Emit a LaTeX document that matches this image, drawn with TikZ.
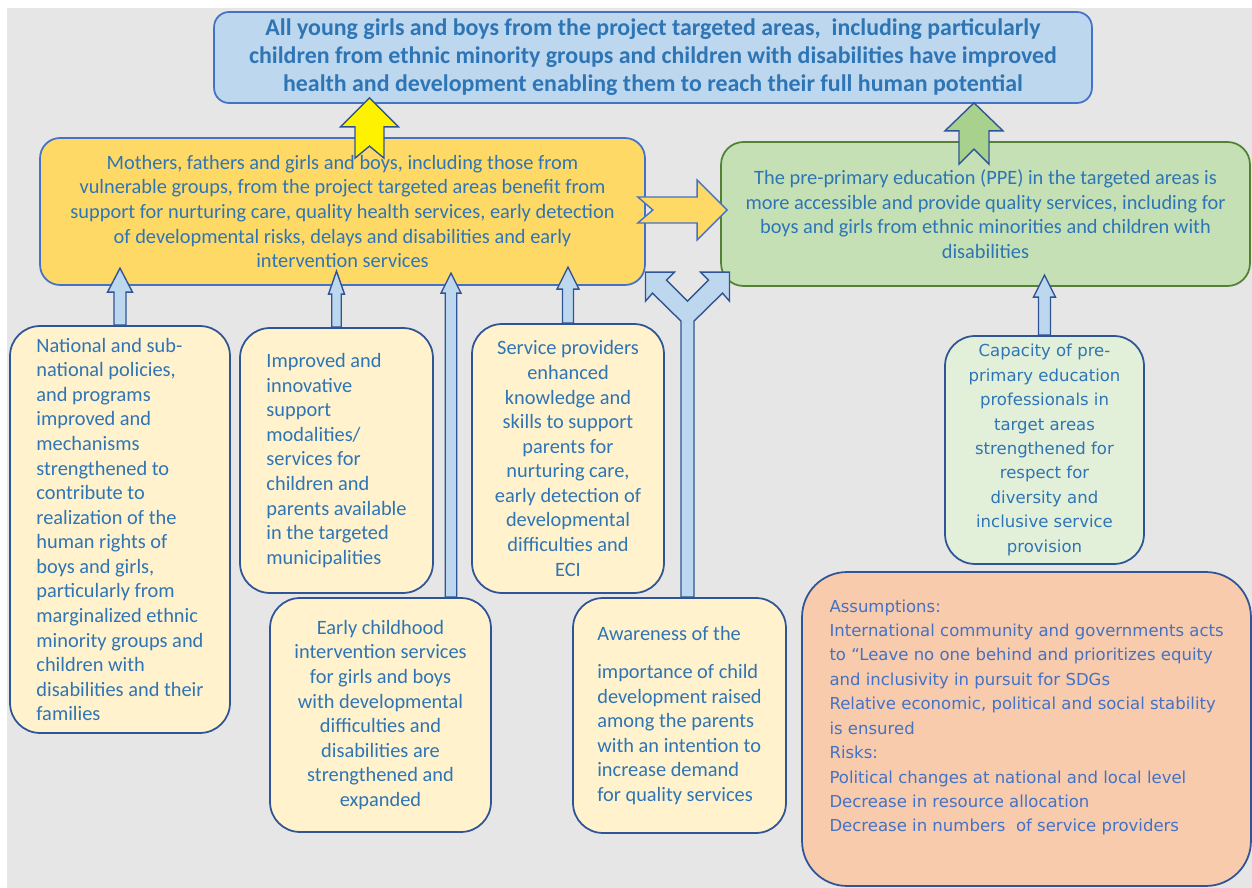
\documentclass[tikz,border=0pt]{standalone}
\usepackage{fontspec}
\setmainfont{Carlito}
\newfontfamily\verdfont{DejaVu Sans}
\usetikzlibrary{calc}
\definecolor{bggrey}{HTML}{E6E6E6}
\definecolor{txtblue}{HTML}{2E75B6}
\definecolor{asstxt}{HTML}{4472C4}
\definecolor{goalfill}{HTML}{BDD7EE}
\definecolor{goaldraw}{HTML}{4472C4}
\definecolor{mothfill}{HTML}{FFD966}
\definecolor{ppefill}{HTML}{C5E0B4}
\definecolor{ppedraw}{HTML}{548235}
\definecolor{lowfill}{HTML}{FFF2CC}
\definecolor{lowdraw}{HTML}{2F5597}
\definecolor{capfill}{HTML}{E2F0D9}
\definecolor{assumfill}{HTML}{F8CBAD}
\definecolor{arrfill}{HTML}{BDD7EE}
\definecolor{greenarr}{HTML}{A9D18E}
\tikzset{
    goalbox/.style={draw=goaldraw, fill=goalfill, line width=1pt, rounded corners=0.3cm,
        text=txtblue, font=\bfseries\fontsize{13.6}{16}\selectfont, align=center, inner sep=0pt},
    outbox/.style={draw=goaldraw, line width=1pt, text=txtblue,
        font=\fontsize{11.6}{14}\selectfont, align=center, inner sep=0pt},
    lowbox/.style={draw=lowdraw, fill=lowfill, line width=1pt, rounded corners=0.6cm,
        text=txtblue, font=\fontsize{11.6}{14}\selectfont, inner sep=0pt},
    verdtext/.style={font=\verdfont\fontsize{9.4}{13.9}\selectfont},
    thinarr/.style={draw=lowdraw, fill=arrfill, line width=0.8pt, line join=miter},
    fatarr/.style={draw=lowdraw, line width=0.8pt, line join=miter}
}
% #1 style, #2 tail, #3 tip, #4 half shaft, #5 half head, #6 head length, #7 notch
\newcommand{\blockarrow}[7]{%
    \coordinate (hb) at ($(#3)!#6!(#2)$);
    \draw[#1] ($(#2)!#4!90:(#3)$) -- ($(hb)!#4!90:(#3)$) -- ($(hb)!#5!90:(#3)$) -- (#3)
        -- ($(hb)!#5!-90:(#3)$) -- ($(hb)!#4!-90:(#3)$) -- ($(#2)!#4!-90:(#3)$)
        -- ($(#2)!#7!(#3)$) -- cycle;
}

\begin{document}
\begin{tikzpicture}[x=0.02cm, y=-0.02cm]
    \useasboundingbox (0,0) rectangle (1252,888);
    \fill[bggrey] (7,8) rectangle (1252,888);

    % goal and outcomes
    \node[goalbox, minimum width=17.56cm, minimum height=1.82cm] (goal) at (653,57.5)
        {All young girls and boys from the project targeted areas,\ \ including particularly\\
         children from ethnic minority groups and children with disabilities have improved\\
         health and development enabling them to reach their full human potential};
    \node[outbox, fill=mothfill, rounded corners=0.4cm, minimum width=12.1cm, minimum height=2.94cm] (moth) at (342.5,211.5)
        {Mothers, fathers and girls and boys, including those from\\
         vulnerable groups, from the project targeted areas benefit from\\
         support for nurturing care, quality health services, early detection\\
         of developmental risks, delays and disabilities and early\\
         intervention services};
    \node[outbox, draw=ppedraw, fill=ppefill, rounded corners=0.45cm, minimum width=10.58cm, minimum height=2.88cm] (ppe) at (985.5,214)
        {The pre-primary education (PPE) in the targeted areas is\\
         more accessible and provide quality services, including for\\
         boys and girls from ethnic minorities and children with\\
         disabilities};

    % outputs
    \node[lowbox, align=left, minimum width=4.4cm, minimum height=8.14cm] (nat) at (120,529.5)
        {National and sub-\\ national policies,\\ and programs\\ improved and\\ mechanisms\\
         strengthened to\\ contribute to\\ realization of the\\ human rights of\\ boys and girls,\\
         particularly from\\ marginalized ethnic\\ minority groups and\\ children with\\
         disabilities and their\\ families};
    \node[lowbox, align=left, minimum width=3.86cm, minimum height=5.3cm] (impr) at (336.5,460.5)
        {Improved and\\ innovative\\ support\\ modalities/\\ services for\\ children and\\
         parents available\\ in the targeted\\ municipalities};
    \node[lowbox, align=center, minimum width=3.84cm, minimum height=5.38cm] (serv) at (568,458.5)
        {Service providers\\ enhanced\\ knowledge and\\ skills to support\\ parents for\\
         nurturing care,\\ early detection of\\ developmental\\ difficulties and\\ ECI};
    \node[lowbox, align=center, minimum width=4.42cm, minimum height=4.68cm] (eci) at (380.5,715)
        {Early childhood\\ intervention services\\ for girls and boys\\ with developmental\\
         difficulties and\\ disabilities are\\ strengthened and\\ expanded};
    \node[lowbox, align=left, minimum width=4.26cm, minimum height=4.7cm] (aware) at (679.5,715.5)
        {Awareness of the\\[0.27cm] importance of child\\ development raised\\ among the parents\\
         with an intention to\\ increase demand\\ for quality services};
    \node[lowbox, fill=capfill, align=center, verdtext,
        minimum width=3.98cm, minimum height=4.56cm] (cap) at (1044.5,450)
        {Capacity of pre-\\ primary education\\ professionals in\\ target areas\\ strengthened for\\
         respect for\\ diversity and\\ inclusive service\\ provision};

    % assumptions and risks
    \node[lowbox, fill=assumfill, rounded corners=0.9cm,
        minimum width=8.98cm, minimum height=6.28cm] (assum) at (1026.5,729) {};
    \node[verdtext, text=asstxt, align=left, inner sep=0pt, anchor=north west] (risks)
        at ($(assum.north west)+(28,28)$)
        {Assumptions:\\ International community and governments acts\\
         to “Leave no one behind and prioritizes equity\\ and inclusivity in pursuit for SDGs\\
         Relative economic, political and social stability\\ is ensured\\ Risks:\\
         Political changes at national and local level\\ Decrease in resource allocation\\
         Decrease in numbers\ \ of service providers};

    % block arrows
    \coordinate (t1) at ($(nat.north)+(0,-57)$);
    \blockarrow{thinarr}{nat.north}{t1}{0.12cm}{0.25cm}{0.48cm}{0cm}
    \coordinate (t2) at ($(impr.north)+(0,-56)$);
    \blockarrow{thinarr}{impr.north}{t2}{0.095cm}{0.16cm}{0.46cm}{0cm}
    \coordinate (e3) at ($(eci.north)+(70.5,0)$);
    \coordinate (t3) at ($(e3 |- t2)+(0,2)$);
    \blockarrow{thinarr}{e3}{t3}{0.115cm}{0.2cm}{0.4cm}{0cm}
    \coordinate (t4) at ($(serv.north)+(0,-56)$);
    \blockarrow{thinarr}{serv.north}{t4}{0.11cm}{0.22cm}{0.44cm}{0cm}
    \coordinate (t5) at ($(cap.north)+(0,-60)$);
    \blockarrow{thinarr}{cap.north}{t5}{0.12cm}{0.22cm}{0.44cm}{0cm}

    \coordinate (y0) at ($(moth.north)+(27,21)$);
    \coordinate (y1) at ($(y0 |- goal.south)+(0,-6)$);
    \blockarrow{fatarr, fill=yellow}{y0}{y1}{0.29cm}{0.58cm}{0.58cm}{0.24cm}
    \coordinate (g0) at ($(ppe.north)+(-11.5,23)$);
    \coordinate (g1) at ($(g0 |- goal.south)+(0,-1)$);
    \blockarrow{fatarr, fill=greenarr}{g0}{g1}{0.3cm}{0.58cm}{0.56cm}{0.3cm}
    \coordinate (o0) at ($(moth.east)+(-8,-1.5)$);
    \coordinate (o1) at ($(ppe.west)+(7,-4)$);
    \blockarrow{fatarr, fill=mothfill, draw=goaldraw}{o0}{o1}{0.26cm}{0.6cm}{0.6cm}{0.3cm}

    % split arrow from awareness
    \coordinate (fk) at ($(aware.north)+(8,0)$);
    \begin{scope}[shift={(fk)}]
        \draw[thinarr] (-6.5,0) -- (-6.5,-276) -- (-35,-304) -- (-42,-296) -- (-42,-325)
            -- (-13,-325) -- (-21,-317) -- (0,-296) -- (21,-317) -- (13,-325) -- (42,-325)
            -- (42,-296) -- (35,-304) -- (6.5,-276) -- (6.5,0) -- cycle;
    \end{scope}
\end{tikzpicture}
\end{document}
